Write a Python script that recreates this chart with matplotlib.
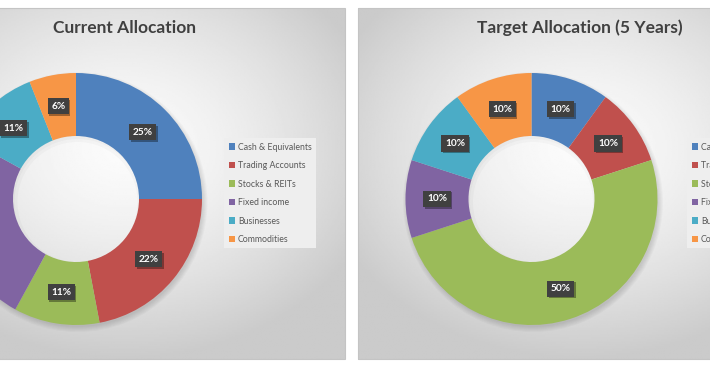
import numpy as np
import matplotlib.pyplot as plt
from matplotlib.patches import Rectangle, Wedge

plt.rcParams['font.family'] = ['Lato', 'DejaVu Sans']

categories = ["Cash & Equivalents", "Trading Accounts", "Stocks & REITs",
              "Fixed income", "Businesses", "Commodities"]
current = [25, 22, 11, 25, 11, 6]
target = [10, 10, 50, 10, 10, 10]
titles = ["Current Allocation", "Target Allocation (5 Years)"]
colors = ["#4F81BD", "#C0504D", "#9BBB59", "#8064A2", "#4BACC6", "#F79646"]

W, H = 710, 373
fig = plt.figure(figsize=(7.1, 3.73), dpi=100)
ax = fig.add_axes([0, 0, 1, 1])


def panel(x0, x1, y0, y1):
    # background of one chart panel (pixel coords from top)
    cx, cy = (x0 + x1) / 2, y0 + (y1 - y0) * 0.4
    xs = np.linspace(x0, x1, 300)
    ys = np.linspace(y0, y1, 200)
    X, Y = np.meshgrid(xs, ys)
    r = np.hypot((X - cx) / ((x1 - x0) / 2), (Y - cy) / ((y1 - y0) / 2))
    v = 0.985 - 0.19 * np.clip(r / 1.2, 0, 1) ** 1.5
    ax.imshow(v, cmap='gray', vmin=0, vmax=1, extent=(x0, x1, H - y1, H - y0),
              origin='upper', aspect='auto', zorder=0)
    ax.add_patch(Rectangle((x0, H - y1), x1 - x0, y1 - y0, fill=False,
                           ec='#c4c4c4', lw=0.8, zorder=1))


def donut(values, cx, cy, title, tx, legend_x):
    c = (cx, H - cy)
    # soft shadow
    for k in range(6):
        ax.add_patch(Wedge((c[0] + 1.5, c[1] - 3), 126 + 4 - k, 0, 360,
                           width=63 - 8 + 2 * k, fc='black', ec='none',
                           alpha=0.025, zorder=2))
    wedges, _ = ax.pie(values, colors=colors, startangle=90, counterclock=False,
                       radius=126, center=c,
                       wedgeprops=dict(width=63, linewidth=0, zorder=3))
    for w, v in zip(wedges, values):
        ang = np.deg2rad((w.theta1 + w.theta2) / 2)
        x = c[0] + 94.5 * np.cos(ang)
        y = c[1] + 94.5 * np.sin(ang)
        ax.text(x + 1.5, y - 1.5, f"{v}%", ha='center', va='center', fontsize=7.3,
                fontweight='bold', color='none', zorder=4,
                bbox=dict(boxstyle='square,pad=0.35', fc='black', ec='none', alpha=0.35))
        ax.text(x, y, f"{v}%", ha='center', va='center', fontsize=7.3,
                fontweight='bold', color='white', zorder=5,
                bbox=dict(boxstyle='square,pad=0.35', fc='#404040', ec='none'))
    ax.text(tx, H - 28, title, ha='center', va='center', fontsize=12.5,
            fontweight='bold', color='#404040', zorder=5)
    leg = ax.legend(wedges, categories, loc='upper left',
                    bbox_to_anchor=(legend_x, H - 134), bbox_transform=ax.transData,
                    fontsize=6.3, frameon=True, facecolor='#eeeeee', edgecolor='none',
                    framealpha=1, fancybox=False, handlelength=0.75, handleheight=0.75,
                    handletextpad=0.3, labelspacing=1.08, borderpad=0.5,
                    labelcolor='#595959')
    ax.add_artist(leg)


panel(-97, 345, 8, 359)
panel(358, 802, 8, 359)
donut(current, 76, 199, titles[0], 124.5, 220)
donut(target, 531.5, 199, titles[1], 580, 683)

ax.set_xlim(0, W)
ax.set_ylim(0, H)
ax.set_aspect('auto')
ax.axis('off')
fig.savefig('out.png', dpi=100, facecolor='white')
